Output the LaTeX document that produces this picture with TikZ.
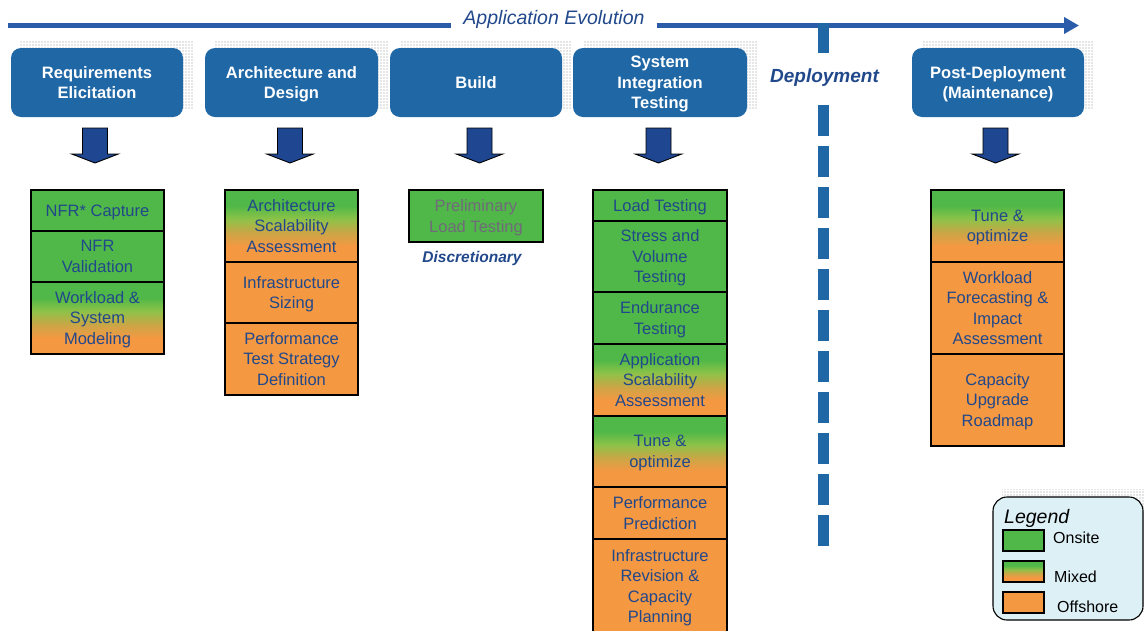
\documentclass[tikz,border=0pt]{standalone}
\usepackage{fontspec}
\setmainfont{Liberation Sans}
\usetikzlibrary{patterns.meta,arrows.meta}
\definecolor{grn}{RGB}{80,184,72}
\definecolor{orng}{RGB}{245,152,66}
\definecolor{ygrn}{RGB}{140,194,72}
\definecolor{tanc}{RGB}{205,165,70}
\definecolor{tc}{RGB}{33,72,138}
\definecolor{hblue}{RGB}{32,103,166}
\definecolor{ablue}{RGB}{31,70,144}
\definecolor{lblue}{RGB}{42,92,170}
\definecolor{legfill}{RGB}{221,240,246}
\definecolor{prelim}{RGB}{112,106,122}
\pgfdeclareverticalshading{mixedshade}{100bp}{color(0bp)=(orng); color(25bp)=(orng); color(36bp)=(orng); color(45bp)=(tanc); color(55bp)=(ygrn); color(64bp)=(grn); color(75bp)=(grn); color(100bp)=(grn)}
\tikzset{
  cell/.style={draw=black, line width=1.1pt, inner sep=0pt, align=center, text=tc,
    text depth=0pt, font=\fontsize{16.5}{20.5}\selectfont},
  onsite/.style={cell, fill=grn},
  mixed/.style={cell, shading=mixedshade},
  offshore/.style={cell, fill=orng},
  hdr/.style={fill=hblue, rounded corners=10pt, text=white, align=center, inner sep=0pt,
    text depth=0pt, minimum height=69pt, font=\fontsize{16.5}{20.5}\selectfont\bfseries},
  dotshadow/.style={pattern={Dots[distance=3pt, radius=0.6pt]}, pattern color=gray!85},
  arrowfill/.style={fill=ablue, draw=black, line width=0.9pt, line join=miter},
  downarrow/.pic={\draw[arrowfill] (-12.5,0) -- (12.5,0) -- (12.5,26) -- (23.3,26) -- (0,35) -- (-23.3,26) -- (-12.5,26) -- cycle;},
  tline/.style={draw=lblue, line width=5pt},
  depline/.style={draw=hblue, line width=11pt},
  ital/.style={text=tc, font=\fontsize{19.5}{22}\selectfont\itshape, inner sep=0pt},
  swatch/.style={draw=black, line width=1.1pt, minimum width=41pt, minimum height=21pt, inner sep=0pt},
  leglabel/.style={anchor=west, inner sep=0pt, font=\fontsize{16}{19}\selectfont},
}
\begin{document}
\begin{tikzpicture}[x=1pt,y=-1pt]
\useasboundingbox (0,0) rectangle (1145,630);
\clip (0,0) rectangle (1145,630);

% ---- timeline
\coordinate (tl) at (8,25.5);
\coordinate (tr) at (1079,25.5);
\node[ital, inner xsep=12pt] (ae) at (554,19.5) {Application Evolution};
\draw[tline] (tl) -- (ae.west |- tl);
\draw[tline, -{Triangle[length=15pt,width=16pt]}] (ae.east |- tl) -- (tr);

% ---- deployment divider
\coordinate (dtop) at (823.5,23);
\coordinate (dtopend) at (823.5,53);
\coordinate (dmid) at (823.5,105);
\coordinate (dbot) at (823.5,546);
\draw[depline] (dtop) -- (dtopend);
\draw[depline, dash pattern=on 31pt off 10pt] (dmid) -- (dbot);
\node[text=tc, font=\fontsize{19}{22}\selectfont\bfseries\itshape, inner sep=0pt] (dep) at (824.5,78) {Deployment};

% ---- header shadows
\foreach \xa/\xb in {11/183, 205/378, 390/562, 573/747, 912/1084}{
  \path[dotshadow] (\xa+9.5,40) rectangle (\xb+10,108);
}
% ---- headers
\node[hdr, minimum width=172pt] (h1) at (97,82.5) {Requirements\\Elicitation};
\node[hdr, minimum width=173pt] (h2) at (291.5,82.5) {Architecture and\\Design};
\node[hdr, minimum width=172pt] (h3) at (476,82.5) {Build};
\node[hdr, minimum width=174pt] (h4) at (660,82.5) {System\\Integration\\Testing};
\node[hdr, minimum width=172pt] (h5) at (998,82.5) {Post-Deployment\\(Maintenance)};

% ---- block arrows
\pic at (95,128) {downarrow};
\pic at (290,128) {downarrow};
\pic at (479.5,128) {downarrow};
\pic at (658.5,128) {downarrow};
\pic at (995.5,128) {downarrow};

% ---- column 1
\node[onsite, minimum width=133pt, minimum height=41pt] (c1a) at (97.5,210.5) {NFR* Capture};
\node[onsite, minimum width=133pt, minimum height=51pt] (c1b) at (97.5,256.5) {NFR\\Validation};
\node[mixed, minimum width=133pt, minimum height=72pt] (c1c) at (97.5,318) {Workload \&\\System\\Modeling};

% ---- column 2
\node[mixed, minimum width=133pt, minimum height=72pt] (c2a) at (291.5,226) {Architecture\\Scalability\\Assessment};
\node[offshore, minimum width=133pt, minimum height=61pt] (c2b) at (291.5,292.5) {Infrastructure\\Sizing};
\node[offshore, minimum width=133pt, minimum height=72pt] (c2c) at (291.5,359) {Performance\\Test Strategy\\Definition};

% ---- column 3
\node[onsite, text=prelim, minimum width=134pt, minimum height=52pt] (c3a) at (476,216) {Preliminary\\Load Testing};
\node[text=tc, font=\fontsize{15.5}{18}\selectfont\bfseries\itshape, inner sep=0pt] (disc) at (472,258) {Discretionary};

% ---- column 4
\node[onsite, minimum width=134pt, minimum height=31pt] (c4a) at (660,205.5) {Load Testing};
\node[onsite, minimum width=134pt, minimum height=71pt] (c4b) at (660,256.5) {Stress and\\Volume\\Testing};
\node[onsite, minimum width=134pt, minimum height=52pt] (c4c) at (660,318) {Endurance\\Testing};
\node[mixed, minimum width=134pt, minimum height=72pt] (c4d) at (660,380) {Application\\Scalability\\Assessment};
\node[mixed, minimum width=134pt, minimum height=71pt] (c4e) at (660,451.5) {Tune \&\\optimize};
\node[offshore, minimum width=134pt, minimum height=52pt] (c4f) at (660,513) {Performance\\Prediction};
\node[offshore, minimum width=134pt, minimum height=94pt] (c4g) at (660,586) {Infrastructure\\Revision \&\\Capacity\\Planning};

% ---- column 5
\node[mixed, minimum width=133pt, minimum height=72pt] (c5a) at (997.5,226) {Tune \&\\optimize};
\node[offshore, minimum width=133pt, minimum height=92pt] (c5b) at (997.5,308) {Workload\\Forecasting \&\\Impact\\Assessment};
\node[offshore, minimum width=133pt, minimum height=92pt] (c5c) at (997.5,400) {Capacity\\Upgrade\\Roadmap};

% ---- legend
\path[dotshadow] (1002,489) rectangle (1152,611);
\node[draw=black, line width=1.1pt, fill=legfill, rounded corners=14pt, minimum width=150pt, minimum height=123pt, inner sep=0pt] (leg) at (1068,558.5) {};
\node[anchor=west, inner sep=0pt, font=\fontsize{19.5}{22}\selectfont\itshape] (legt) at (1004,518) {Legend};
\node[swatch, fill=grn] (s1) at (1023.5,540.5) {};
\node[swatch, shading=mixedshade] (s2) at (1023.5,571.5) {};
\node[swatch, fill=orng] (s3) at (1023.5,602.5) {};
\node[leglabel] (l1) at (1053,538) {Onsite};
\node[leglabel] (l2) at (1054,577) {Mixed};
\node[leglabel] (l3) at (1057,607) {Offshore};
\end{tikzpicture}
\end{document}
